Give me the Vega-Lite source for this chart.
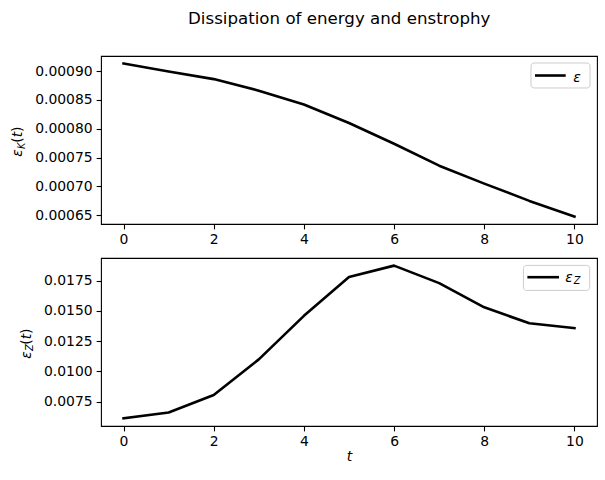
{
  "$schema": "https://vega.github.io/schema/vega-lite/v6.json",
  "padding": {"left": 10, "top": 10, "right": 8, "bottom": 5},
  "title": {
    "text": "Dissipation of energy and enstrophy",
    "font": "DejaVu Sans",
    "fontSize": 16.67,
    "fontWeight": "normal",
    "color": "#000000",
    "anchor": "middle",
    "baseline": "alphabetic",
    "offset": 15,
    "dx": 35
  },
  "datasets": {
    "series": [
      {"t": 0, "eK": 0.000913, "eZ": 0.00612},
      {"t": 1, "eK": 0.000899, "eZ": 0.00660},
      {"t": 2, "eK": 0.000886, "eZ": 0.00805},
      {"t": 3, "eK": 0.000866, "eZ": 0.01100},
      {"t": 4, "eK": 0.000842, "eZ": 0.01460},
      {"t": 5, "eK": 0.000810, "eZ": 0.01780},
      {"t": 6, "eK": 0.000774, "eZ": 0.01875},
      {"t": 7, "eK": 0.000736, "eZ": 0.01730},
      {"t": 8, "eK": 0.000705, "eZ": 0.01530},
      {"t": 9, "eK": 0.000675, "eZ": 0.01398},
      {"t": 10, "eK": 0.000648, "eZ": 0.01358}
    ],
    "single": [{}]
  },
  "spacing": 34,
  "bounds": "flush",
  "resolve": {"scale": {"x": "independent", "y": "independent"}},
  "vconcat": [
    {
      "width": 496,
      "height": 168,
      "layer": [
        {
          "data": {"name": "series"},
          "mark": {"type": "line", "color": "#000000", "strokeWidth": 2.6, "strokeCap": "square", "strokeJoin": "round"},
          "encoding": {
            "x": {
              "field": "t", "type": "quantitative",
              "scale": {"domain": [-0.5, 10.5], "nice": false, "zero": false},
              "axis": {"title": null, "values": [0, 2, 4, 6, 8, 10], "tickCount": 20, "format": "d", "labelOverlap": false}
            },
            "y": {
              "field": "eK", "type": "quantitative",
              "scale": {"domain": [0.000635, 0.000926], "nice": false, "zero": false},
              "axis": {"title": null, "values": [0.00065, 0.0007, 0.00075, 0.0008, 0.00085, 0.0009], "tickCount": 20, "format": ".5f", "labelOverlap": false}
            }
          }
        },
        {
          "data": {"name": "single"},
          "layer": [
            {
              "mark": {"type": "rect", "fill": "#ffffff", "fillOpacity": 0.8, "stroke": "#cccccc", "strokeWidth": 1, "cornerRadius": 3},
              "encoding": {
                "x": {"datum": 9.036, "type": "quantitative"}, "x2": {"datum": 10.345},
                "y": {"datum": 0.0009139, "type": "quantitative"}, "y2": {"datum": 0.0008706}
              }
            },
            {
              "mark": {"type": "rule", "color": "#000000", "strokeWidth": 2.6, "strokeCap": "square"},
              "encoding": {
                "x": {"datum": 9.154, "type": "quantitative"}, "x2": {"datum": 9.777},
                "y": {"datum": 0.0008922, "type": "quantitative"}
              }
            },
            {
              "mark": {"type": "text", "text": "ε", "align": "left", "baseline": "alphabetic", "fontStyle": "italic", "fontSize": 13.9, "color": "#000000"},
              "encoding": {"x": {"datum": 9.972, "type": "quantitative"}, "y": {"datum": 0.000881, "type": "quantitative"}}
            },
            {
              "mark": {"type": "text", "text": "ε", "angle": 270, "align": "left", "baseline": "alphabetic", "fontStyle": "italic", "fontSize": 13.9, "color": "#000000"},
              "encoding": {"x": {"datum": -2.243, "type": "quantitative"}, "y": {"datum": 0.0007516, "type": "quantitative"}}
            },
            {
              "mark": {"type": "text", "text": "K", "angle": 270, "align": "left", "baseline": "alphabetic", "fontStyle": "italic", "fontSize": 9.7, "dx": 7.6, "dy": 2.5, "color": "#000000"},
              "encoding": {"x": {"datum": -2.243, "type": "quantitative"}, "y": {"datum": 0.0007516, "type": "quantitative"}}
            },
            {
              "mark": {"type": "text", "text": "(", "angle": 270, "align": "left", "baseline": "alphabetic", "fontSize": 13.9, "dx": 14.0, "color": "#000000"},
              "encoding": {"x": {"datum": -2.243, "type": "quantitative"}, "y": {"datum": 0.0007516, "type": "quantitative"}}
            },
            {
              "mark": {"type": "text", "text": "t", "angle": 270, "align": "left", "baseline": "alphabetic", "fontStyle": "italic", "fontSize": 13.9, "dx": 19.4, "color": "#000000"},
              "encoding": {"x": {"datum": -2.243, "type": "quantitative"}, "y": {"datum": 0.0007516, "type": "quantitative"}}
            },
            {
              "mark": {"type": "text", "text": ")", "angle": 270, "align": "left", "baseline": "alphabetic", "fontSize": 13.9, "dx": 24.8, "color": "#000000"},
              "encoding": {"x": {"datum": -2.243, "type": "quantitative"}, "y": {"datum": 0.0007516, "type": "quantitative"}}
            }
          ]
        }
      ]
    },
    {
      "width": 496,
      "height": 168,
      "layer": [
        {
          "data": {"name": "series"},
          "mark": {"type": "line", "color": "#000000", "strokeWidth": 2.6, "strokeCap": "square", "strokeJoin": "round"},
          "encoding": {
            "x": {
              "field": "t", "type": "quantitative",
              "scale": {"domain": [-0.5, 10.5], "nice": false, "zero": false},
              "axis": {"title": "t", "values": [0, 2, 4, 6, 8, 10], "tickCount": 20, "format": "d", "labelOverlap": false}
            },
            "y": {
              "field": "eZ", "type": "quantitative",
              "scale": {"domain": [0.00549, 0.01938], "nice": false, "zero": false},
              "axis": {"title": null, "values": [0.0075, 0.01, 0.0125, 0.015, 0.0175], "tickCount": 20, "format": ".4f", "labelOverlap": false}
            }
          }
        },
        {
          "data": {"name": "single"},
          "layer": [
            {
              "mark": {"type": "rect", "fill": "#ffffff", "fillOpacity": 0.8, "stroke": "#cccccc", "strokeWidth": 1, "cornerRadius": 3},
              "encoding": {
                "x": {"datum": 8.868, "type": "quantitative"}, "x2": {"datum": 10.338},
                "y": {"datum": 0.018768, "type": "quantitative"}, "y2": {"datum": 0.016701}
              }
            },
            {
              "mark": {"type": "rule", "color": "#000000", "strokeWidth": 2.6, "strokeCap": "square"},
              "encoding": {
                "x": {"datum": 8.985, "type": "quantitative"}, "x2": {"datum": 9.628},
                "y": {"datum": 0.017793, "type": "quantitative"}
              }
            },
            {
              "mark": {"type": "text", "text": "ε", "align": "left", "baseline": "alphabetic", "fontStyle": "italic", "fontSize": 13.9, "color": "#000000"},
              "encoding": {"x": {"datum": 9.795, "type": "quantitative"}, "y": {"datum": 0.017396, "type": "quantitative"}}
            },
            {
              "mark": {"type": "text", "text": "Z", "align": "left", "baseline": "alphabetic", "fontStyle": "italic", "fontSize": 9.7, "color": "#000000"},
              "encoding": {"x": {"datum": 9.983, "type": "quantitative"}, "y": {"datum": 0.017255, "type": "quantitative"}}
            },
            {
              "mark": {"type": "text", "text": "ε", "angle": 270, "align": "left", "baseline": "alphabetic", "fontStyle": "italic", "fontSize": 13.9, "color": "#000000"},
              "encoding": {"x": {"datum": -2.057, "type": "quantitative"}, "y": {"datum": 0.011054, "type": "quantitative"}}
            },
            {
              "mark": {"type": "text", "text": "Z", "angle": 270, "align": "left", "baseline": "alphabetic", "fontStyle": "italic", "fontSize": 9.7, "dx": 7.6, "dy": 2.5, "color": "#000000"},
              "encoding": {"x": {"datum": -2.057, "type": "quantitative"}, "y": {"datum": 0.011054, "type": "quantitative"}}
            },
            {
              "mark": {"type": "text", "text": "(", "angle": 270, "align": "left", "baseline": "alphabetic", "fontSize": 13.9, "dx": 14.0, "color": "#000000"},
              "encoding": {"x": {"datum": -2.057, "type": "quantitative"}, "y": {"datum": 0.011054, "type": "quantitative"}}
            },
            {
              "mark": {"type": "text", "text": "t", "angle": 270, "align": "left", "baseline": "alphabetic", "fontStyle": "italic", "fontSize": 13.9, "dx": 19.4, "color": "#000000"},
              "encoding": {"x": {"datum": -2.057, "type": "quantitative"}, "y": {"datum": 0.011054, "type": "quantitative"}}
            },
            {
              "mark": {"type": "text", "text": ")", "angle": 270, "align": "left", "baseline": "alphabetic", "fontSize": 13.9, "dx": 24.8, "color": "#000000"},
              "encoding": {"x": {"datum": -2.057, "type": "quantitative"}, "y": {"datum": 0.011054, "type": "quantitative"}}
            }
          ]
        }
      ]
    }
  ],
  "config": {
    "font": "DejaVu Sans",
    "view": {"stroke": "#000000", "strokeWidth": 1.1},
    "axis": {
      "domain": false,
      "grid": false,
      "ticks": true,
      "tickColor": "#000000",
      "tickWidth": 1.1,
      "tickSize": 4.9,
      "labelFont": "DejaVu Sans",
      "labelFontSize": 13.9,
      "labelColor": "#000000",
      "labelPadding": 4,
      "labelFlush": false,
      "labelOverlap": false,
      "titleFont": "DejaVu Sans",
      "titleFontSize": 13.9,
      "titleFontWeight": "normal",
      "titleFontStyle": "italic",
      "titleColor": "#000000",
      "titlePadding": 1
    }
  }
}
